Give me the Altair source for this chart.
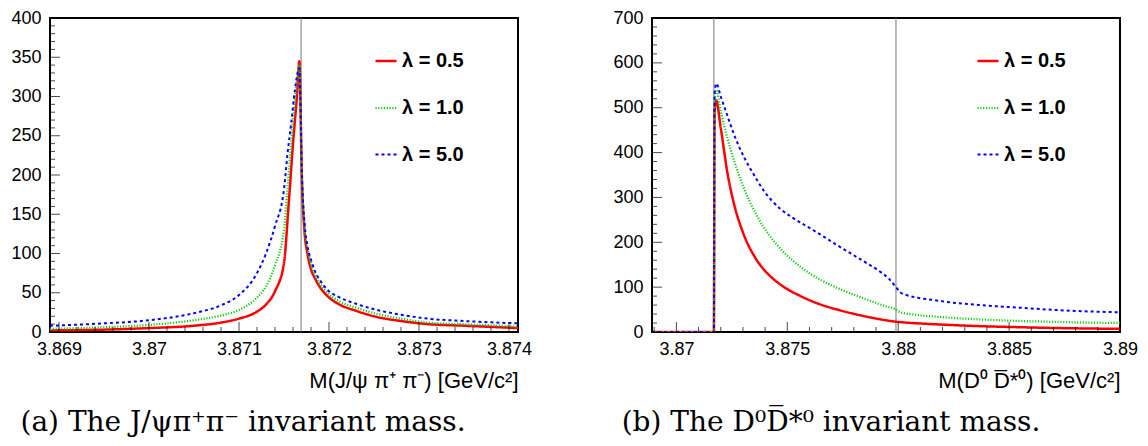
import altair as alt
import pandas as pd

SERIES = ["λ = 0.5", "λ = 1.0", "λ = 5.0"]
COLORS = ["#ff0000", "#11cc11", "#0000ff"]
DASHES = [[1, 0], [1.2, 1.6], [3, 3]]
WIDTHS = [2.5, 2.0, 2.5]

# ---------------- Panel (a): M(J/psi pi+ pi-) ----------------
a_m_red = [3.8689, 3.8695, 3.8700, 3.8705, 3.8708, 3.8710, 3.8712, 3.8713, 3.8714, 3.8715,
           3.87155, 3.8716, 3.87165, 3.87167, 3.87170, 3.87173, 3.87176, 3.8718, 3.87185,
           3.8719, 3.8720, 3.8721, 3.8723, 3.8725, 3.8728, 3.8731, 3.8735, 3.8741]
a_v_red = [2, 3, 5, 8, 12, 17, 26, 35, 52, 88,
           160, 240, 310, 345, 190, 125, 100, 80, 67,
           57, 44, 36, 27, 20, 14, 10, 8, 5]

a_m_green = [3.8689, 3.8695, 3.8700, 3.8705, 3.8708, 3.8710, 3.8712, 3.8713, 3.8714, 3.8715,
             3.87154, 3.87158, 3.87162, 3.87166, 3.87167, 3.87170, 3.87173, 3.87176, 3.8718,
             3.87185, 3.8719, 3.8720, 3.8721, 3.8723, 3.8725, 3.8728, 3.8731, 3.8735, 3.8741]
a_v_green = [4, 6, 9, 15, 21, 28, 44, 58, 85, 130,
             185, 240, 295, 335, 340, 195, 132, 107, 88,
             72, 62, 48, 40, 31, 24, 17, 12, 10, 7]

a_m_blue = [3.8689, 3.8695, 3.8700, 3.8705, 3.8708, 3.8710, 3.8712, 3.8713, 3.8714, 3.8715,
            3.87154, 3.87158, 3.87162, 3.87166, 3.87167, 3.87170, 3.87173, 3.87176,
            3.8718, 3.87185, 3.8719, 3.8720, 3.8721, 3.8723, 3.8725, 3.8728, 3.8731, 3.8735, 3.8741]
a_v_blue = [8, 11, 15, 24, 34, 47, 75, 100, 135, 182,
            228, 266, 307, 334, 336, 197, 136, 110,
            92, 76, 66, 52, 45, 36, 29, 22, 17, 14, 11]

# ---------------- Panel (b): M(D0 D*0bar) ----------------
b_m_red = [3.8689, 3.87169, 3.87172, 3.87179, 3.8720, 3.8723, 3.8726, 3.8730, 3.8736, 3.8742,
           3.8748, 3.8756, 3.8764, 3.8774, 3.8786, 3.8799, 3.8810, 3.8822, 3.8837, 3.8852,
           3.8870, 3.8900]
b_v_red = [0, 0, 490, 516, 455, 355, 285, 222, 162, 126,
           102, 80, 63, 48, 34, 23, 19, 16, 13, 11,
           9, 7]

b_m_green = [3.8689, 3.87169, 3.87172, 3.87180, 3.8720, 3.8723, 3.8726, 3.8730, 3.8736, 3.8742,
             3.8748, 3.8756, 3.8764, 3.8774, 3.8786, 3.8794, 3.8799, 3.8801, 3.8807, 3.8820,
             3.8837, 3.8867, 3.8900]
b_v_green = [0, 0, 515, 540, 492, 432, 382, 326, 262, 215,
             180, 145, 119, 95, 72, 58, 50, 44, 39, 33,
             28, 23, 20]

b_m_blue = [3.8689, 3.87169, 3.87172, 3.87180, 3.8720, 3.8723, 3.8726, 3.8731, 3.8735, 3.8739,
            3.8743, 3.8747, 3.8752, 3.8758, 3.8765, 3.8772, 3.8779, 3.8786, 3.8792, 3.8796,
            3.8799, 3.8801, 3.8804, 3.8808, 3.8815, 3.8822, 3.8837, 3.8852, 3.8875, 3.8900]
b_v_blue = [0, 0, 530, 554, 525, 482, 440, 385, 350, 318,
            293, 274, 256, 238, 217, 195, 174, 153, 134, 118,
            100, 88, 82, 77, 72, 67, 60, 55, 48, 44]

a_thresholds = [3.87169]
b_thresholds = [3.87169, 3.8799]

a_x_major = [3.869, 3.870, 3.871, 3.872, 3.873, 3.874]
a_x_minor = [round(3.869 + 0.0002 * i, 4) for i in range(0, 26) if i % 5 != 0]
a_y_major = list(range(0, 401, 50))
a_y_minor = [v for v in range(0, 401, 10) if v % 50 != 0]

b_x_major = [3.870, 3.875, 3.880, 3.885, 3.890]
b_x_minor = [round(3.869 + 0.001 * i, 3) for i in range(0, 22) if i % 5 != 1]
b_y_major = list(range(0, 701, 100))
b_y_minor = [v for v in range(0, 701, 20) if v % 100 != 0]


def series_frame(ms, vs):
    rows = []
    for name, m, v in zip(SERIES, ms, vs):
        for mi, vi in zip(m, v):
            rows.append({"lam": name, "m": mi, "v": vi})
    return pd.DataFrame(rows)


def panel(df, xdom, ydom, xmaj, xmin, ymaj, ymin, thr, xtitle, caption, cap_dx):
    xs = alt.Scale(domain=xdom, nice=False, zero=False)
    ys = alt.Scale(domain=ydom, nice=False, zero=False)
    xaxis = alt.Axis(values=xmaj, format=".3~f", ticks=False, domain=False,
                     grid=False, labelPadding=8, labelFlush=False,
                     titleAnchor="end", titlePadding=12)
    yaxis = alt.Axis(values=ymaj, ticks=False, domain=False, grid=False, labelPadding=9)

    def X(field):
        return alt.X(field, type="quantitative", scale=xs, axis=xaxis, title=xtitle)

    def Y(field):
        return alt.Y(field, type="quantitative", scale=ys, axis=yaxis, title=None)

    legend = alt.Legend(
        title=None, orient="none", legendX=324, legendY=31,
        symbolType="stroke", symbolSize=441, symbolStrokeWidth=2.5,
        labelFont="Liberation Sans", labelFontSize=20, labelFontWeight="bold",
        labelColor="black", labelOffset=4, rowPadding=25, padding=0,
    )
    rules = alt.Chart(pd.DataFrame({"m": thr})).mark_rule(
        color="#787878", strokeWidth=1
    ).encode(x=X("m"))

    lines = alt.Chart(df).mark_line(interpolate="monotone", clip=True).encode(
        x=X("m"),
        y=Y("v"),
        color=alt.Color("lam:N", scale=alt.Scale(domain=SERIES, range=COLORS), legend=legend),
        strokeDash=alt.StrokeDash("lam:N", scale=alt.Scale(domain=SERIES, range=DASHES),
                                  legend=legend),
        strokeWidth=alt.StrokeWidth("lam:N", scale=alt.Scale(domain=SERIES, range=WIDTHS),
                                    legend=None),
    )

    def xticks(vals, size):
        d = pd.DataFrame({"m": vals, "v": [ydom[0]] * len(vals)})
        return alt.Chart(d).mark_tick(
            orient="vertical", size=size, thickness=1, color="black", yOffset=-size / 2
        ).encode(x=X("m"), y=Y("v"))

    def yticks(vals, size):
        d = pd.DataFrame({"v": vals, "m": [xdom[0]] * len(vals)})
        return alt.Chart(d).mark_tick(
            orient="horizontal", size=size, thickness=1, color="black", xOffset=size / 2
        ).encode(y=Y("v"), x=X("m"))

    return alt.layer(
        rules, lines,
        xticks(xmaj, 10), xticks(xmin, 5), yticks(ymaj, 10), yticks(ymin, 5),
    ).properties(
        width=468, height=314,
        title=alt.TitleParams(
            text=caption, orient="bottom", anchor="middle", frame="group", dx=cap_dx,
            offset=18, font="DejaVu Serif", fontSize=28, fontWeight="normal", color="black",
        ),
    )


df_a = series_frame([a_m_red, a_m_green, a_m_blue], [a_v_red, a_v_green, a_v_blue])
df_b = series_frame([b_m_red, b_m_green, b_m_blue], [b_v_red, b_v_green, b_v_blue])

left = panel(df_a, [3.8689, 3.8741], [0, 400], a_x_major, a_x_minor, a_y_major, a_y_minor,
             a_thresholds, "M(J/ψ π⁺ π⁻) [GeV/c²]", "(a) The J/ψπ⁺π⁻ invariant mass.", -41)
right = panel(df_b, [3.8689, 3.89], [0, 700], b_x_major, b_x_minor, b_y_major, b_y_minor,
              b_thresholds, "M(D⁰ D̅*⁰) [GeV/c²]", "(b) The D⁰D̅*⁰ invariant mass.", -55)

chart = alt.hconcat(left, right, spacing=78).resolve_scale(
    x="independent", y="independent", color="independent",
    strokeDash="independent", strokeWidth="independent",
).properties(
    padding={"left": 1, "top": 0, "right": 0, "bottom": 0},
    background="white",
).configure_view(
    stroke="black", strokeWidth=2,
).configure_axis(
    labelFont="Liberation Sans", labelFontSize=18, labelColor="black",
    titleFont="Liberation Sans", titleFontSize=22, titleFontWeight="normal", titleColor="black",
)

chart.save("out.html", embed_options={"renderer": "svg", "actions": False})
